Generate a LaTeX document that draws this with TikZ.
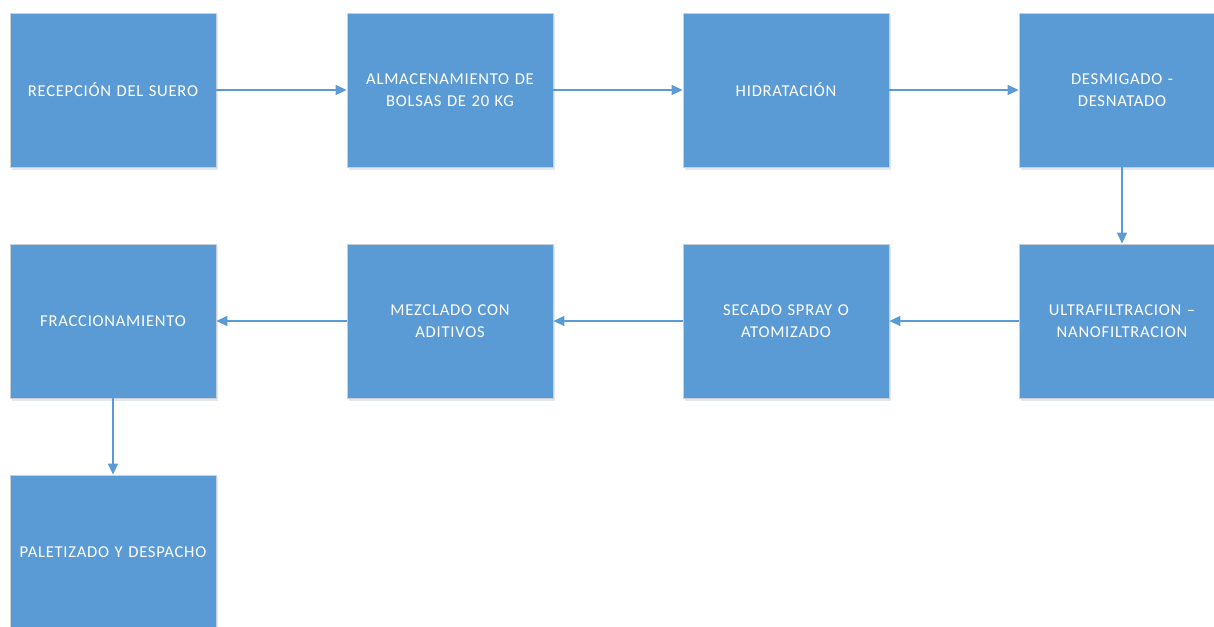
\documentclass[tikz,border=0pt]{standalone}
\usepackage{fontspec}
\setmainfont{Carlito}
\newfontfamily\boxfont[LetterSpace=4.5]{Carlito}
\usetikzlibrary{arrows.meta}
\definecolor{boxblue}{HTML}{5B9BD5}
\definecolor{boxedge}{HTML}{C9CFD6}
\definecolor{shadowc}{HTML}{E3E8EE}
\tikzset{
  procbox/.style={draw=boxedge, line width=0.8pt, fill=boxblue, minimum width=206pt, minimum height=154pt, inner sep=0pt, text=white, font=\boxfont\fontsize{16.6}{22}\selectfont, align=center, text width=204pt},
  flow/.style={draw=boxblue, line width=1.4pt, -{Triangle[length=11pt,width=10pt]}}
}
\begin{document}
\begin{tikzpicture}[x=1pt,y=-1pt]
\path[use as bounding box] (0,0) rectangle (1214,626);
\begin{scope}
\clip (0,0) rectangle (1214,626);
\foreach \cx/\cy in {113/90,450/90,786/90,1122/90,113/321,450/321,786/321,1122/321,113/552}{
  \fill[shadowc] (\cx-101,\cy-75) rectangle (\cx+105,\cy+80);
}
\node[procbox] (a) at (113,90) {RECEPCIÓN DEL SUERO};
\node[procbox] (b) at (450,90) {ALMACENAMIENTO DE\\BOLSAS DE 20 KG};
\node[procbox] (c) at (786,90) {HIDRATACIÓN};
\node[procbox] (d) at (1122,90) {DESMIGADO -\\DESNATADO};
\node[procbox] (e) at (1122,321) {ULTRAFILTRACION –\\NANOFILTRACION};
\node[procbox] (f) at (786,321) {SECADO SPRAY O\\ATOMIZADO};
\node[procbox] (g) at (450,321) {MEZCLADO CON\\ADITIVOS};
\node[procbox] (h) at (113,321) {FRACCIONAMIENTO};
\node[procbox] (i) at (113,552) {PALETIZADO Y DESPACHO};
\draw[flow] (a) -- (b);
\draw[flow] (b) -- (c);
\draw[flow] (c) -- (d);
\draw[flow] (d) -- (e);
\draw[flow] (e) -- (f);
\draw[flow] (f) -- (g);
\draw[flow] (g) -- (h);
\draw[flow] (h) -- (i);
\end{scope}
\end{tikzpicture}
\end{document}
